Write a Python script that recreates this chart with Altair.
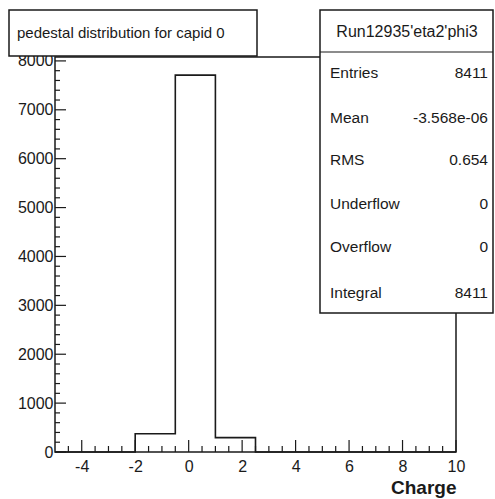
import altair as alt
import pandas as pd

# ---- data ----
bin_edges = [-5.0, -3.5, -2.0, -0.5, 1.0, 2.5, 4.0, 5.5, 7.0, 8.5, 10.0]
bin_counts = [0, 0, 372, 7710, 294, 0, 0, 0, 0, 0]
x_major = [-4, -2, 0, 2, 4, 6, 8, 10]
x_minor = [-4.5, -3.5, -3, -2.5, -1.5, -1, -0.5, 0.5, 1, 1.5, 2.5, 3, 3.5,
           4.5, 5, 5.5, 6.5, 7, 7.5, 8.5, 9, 9.5]
y_major = [0, 1000, 2000, 3000, 4000, 5000, 6000, 7000, 8000]
y_minor = [200, 400, 600, 800, 1200, 1400, 1600, 1800, 2200, 2400, 2600, 2800,
           3200, 3400, 3600, 3800, 4200, 4400, 4600, 4800, 5200, 5400, 5600,
           5800, 6200, 6400, 6600, 6800, 7200, 7400, 7600, 7800]
x_domain = [-5, 10]
y_domain = [0, 8080]
title_text = "pedestal distribution for capid 0"
stats_title = "Run12935'eta2'phi3"
stat_labels = ["Entries", "Mean", "RMS", "Underflow", "Overflow", "Integral"]
stat_values = ["8411", "-3.568e-06", "0.654", "0", "0", "8411"]
x_title = "Charge"

# ---- layout (pixels) ----
W, H = 401, 395
FONT = "Liberation Sans"
INK = "#1a1a1a"
row_y = [16, 61, 103, 147, 190, 236]

xs = alt.Scale(domain=x_domain, nice=False, zero=False)
ys = alt.Scale(domain=y_domain, nice=False, zero=True)

hist_df = pd.DataFrame({
    "x": bin_edges,
    "y": bin_counts + [0],
})

base_x_axis = alt.Axis(values=x_major, ticks=False, domain=False,
                       labelExpr="'' + datum.value",
                       labelFontSize=16, labelFont=FONT, labelColor=INK,
                       labelPadding=6, title=x_title, titleFont=FONT,
                       titleFontSize=19, titleFontWeight="bold",
                       titleColor=INK, titleX=W, titleY=35,
                       titleAlign="right", titleBaseline="middle",
                       labelFlush=False)
base_y_axis = alt.Axis(values=y_major, ticks=False, domain=False,
                       labelExpr="'' + datum.value",
                       labelFontSize=16, labelFont=FONT, labelColor=INK,
                       labelPadding=2, title=None, labelFlush=False)

hist = alt.Chart(hist_df).mark_line(
    interpolate="step-after", color=INK, strokeWidth=1.6
).encode(
    x=alt.X("x:Q", scale=xs, axis=base_x_axis),
    y=alt.Y("y:Q", scale=ys, axis=base_y_axis),
)

xmaj = alt.Chart(pd.DataFrame({"v": x_major})).mark_rule(color=INK, strokeWidth=1.2).encode(
    x=alt.X("v:Q", scale=xs), y=alt.value(H), y2=alt.value(H - 12))
xmin = alt.Chart(pd.DataFrame({"v": x_minor})).mark_rule(color=INK, strokeWidth=1.2).encode(
    x=alt.X("v:Q", scale=xs), y=alt.value(H), y2=alt.value(H - 6))
ymaj = alt.Chart(pd.DataFrame({"v": y_major})).mark_rule(color=INK, strokeWidth=1.2).encode(
    y=alt.Y("v:Q", scale=ys), x=alt.value(0), x2=alt.value(11))
ymin = alt.Chart(pd.DataFrame({"v": y_minor})).mark_rule(color=INK, strokeWidth=1.2).encode(
    y=alt.Y("v:Q", scale=ys), x=alt.value(0), x2=alt.value(5))

one = pd.DataFrame({"a": [0]})

title_box = alt.Chart(one).mark_rect(fill="white", stroke=INK, strokeWidth=1.5).encode(
    x=alt.value(-46), x2=alt.value(202), y=alt.value(-47), y2=alt.value(-1))
title_txt = alt.Chart(one).mark_text(
    text=title_text, font=FONT, fontSize=15, color=INK, align="left", baseline="middle"
).encode(x=alt.value(-38), y=alt.value(-24))

stats_box = alt.Chart(one).mark_rect(fill="white", stroke=INK, strokeWidth=1.5).encode(
    x=alt.value(265), x2=alt.value(438), y=alt.value(-47), y2=alt.value(256))
stats_line = alt.Chart(one).mark_rule(color=INK, strokeWidth=1.2).encode(
    x=alt.value(265), x2=alt.value(438), y=alt.value(-5))
stats_head = alt.Chart(one).mark_text(
    text=stats_title, font=FONT, fontSize=16, color=INK, align="center", baseline="middle"
).encode(x=alt.value(352), y=alt.value(-25))

stats_df = pd.DataFrame({"label": stat_labels, "value": stat_values, "py": row_y})
stats_lab = alt.Chart(stats_df).mark_text(
    font=FONT, fontSize=15.5, color=INK, align="left", baseline="middle"
).encode(x=alt.value(275), y=alt.Y("py:Q", scale=None), text="label:N")
stats_val = alt.Chart(stats_df).mark_text(
    font=FONT, fontSize=15.5, color=INK, align="right", baseline="middle"
).encode(x=alt.value(433), y=alt.Y("py:Q", scale=None), text="value:N")

chart = alt.layer(
    hist, xmin, xmaj, ymin, ymaj,
    title_box, title_txt, stats_box, stats_line, stats_head, stats_lab, stats_val
).resolve_scale(y="shared").properties(
    width=W, height=H,
    autosize=alt.AutoSizeParams(type="none"),
    padding={"left": 55, "top": 57, "right": 39, "bottom": 47},
    background="white",
).configure_view(stroke=INK, strokeWidth=1.5).configure_axis(grid=False)

chart.save("out.html", embed_options={"renderer": "svg", "actions": False})
